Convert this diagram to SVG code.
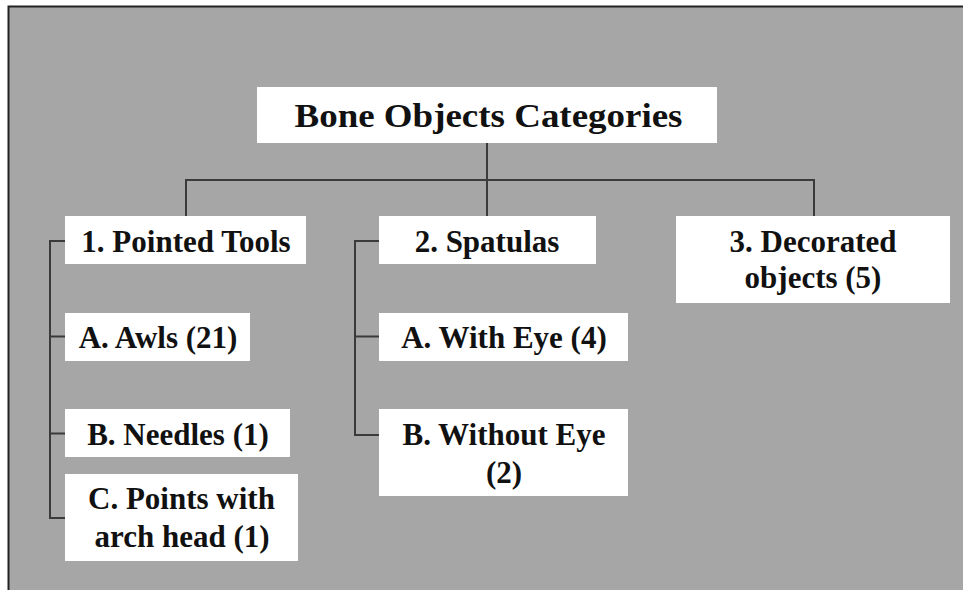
<svg xmlns="http://www.w3.org/2000/svg" width="963" height="590" viewBox="0 0 963 590">
<style>
.box{fill:#ffffff}
.t{font-family:"Liberation Serif","Times New Roman",serif;font-weight:bold;font-size:31px;fill:#111;text-anchor:middle}
.title{font-size:34px}
.c{fill:none;stroke:#3a3a3a;stroke-width:2}
</style>
<rect x="0" y="0" width="963" height="590" fill="#ffffff"/>
<rect x="8" y="6.5" width="955" height="583.5" fill="#a6a6a6"/>
<path d="M8.5 590 V6.5 H963" fill="none" stroke="#222" stroke-width="2"/>
<g id="connectors">
<path class="c" d="M487 143 V216"/>
<path class="c" d="M186 216 V180 H814 V216"/>
<path class="c" d="M65 241 H50 V518 H65 M50 336.5 H65 M50 433.5 H65"/>
<path class="c" d="M379 241 H355 V435 H379 M355 336.5 H379"/>
</g>
<g id="title">
<rect class="box" x="257" y="87" width="460" height="56"/>
<text class="t title" x="488.5" y="127" textLength="388" lengthAdjust="spacingAndGlyphs">Bone Objects Categories</text>
</g>
<g id="pointed">
<rect class="box" x="65" y="216" width="241" height="48"/>
<text class="t" x="186" y="252">1. Pointed Tools</text>
</g>
<g id="awls">
<rect class="box" x="65" y="313" width="185" height="48"/>
<text class="t" x="158" y="348">A. Awls (21)</text>
</g>
<g id="needles">
<rect class="box" x="65" y="409" width="225" height="48"/>
<text class="t" x="178" y="445">B. Needles (1)</text>
</g>
<g id="points">
<rect class="box" x="65" y="474" width="233" height="87"/>
<text class="t" x="181.5" y="509">C. Points with</text>
<text class="t" x="182" y="547">arch head (1)</text>
</g>
<g id="spatulas">
<rect class="box" x="379" y="216" width="217" height="48"/>
<text class="t" x="487" y="252">2. Spatulas</text>
</g>
<g id="witheye">
<rect class="box" x="379" y="313" width="249" height="48"/>
<text class="t" x="504" y="348">A. With Eye (4)</text>
</g>
<g id="withouteye">
<rect class="box" x="379" y="409" width="249" height="87"/>
<text class="t" x="504" y="445">B. Without Eye</text>
<text class="t" x="504" y="483">(2)</text>
</g>
<g id="decorated">
<rect class="box" x="676" y="216" width="274" height="87"/>
<text class="t" x="813" y="252">3. Decorated</text>
<text class="t" x="813" y="288">objects (5)</text>
</g>
</svg>
